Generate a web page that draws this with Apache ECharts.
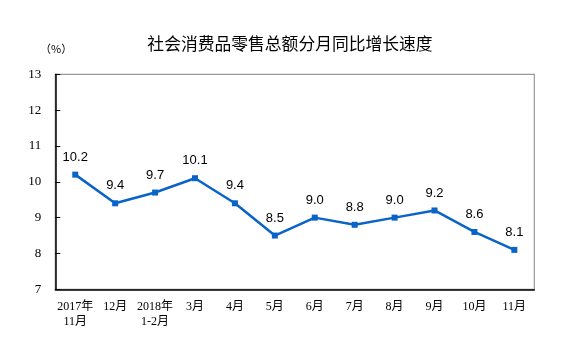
<!DOCTYPE html>
<html><head><meta charset="utf-8">
<script src="https://cdn.jsdelivr.net/npm/echarts@6/dist/echarts.min.js"></script>
<style>html,body{margin:0;padding:0;background:#fff}#c{width:585px;height:344px}</style>
</head><body><div id="c"></div>
<script>
var categories = ['2017年\n11月','12月','2018年\n1-2月','3月','4月','5月','6月','7月','8月','9月','10月','11月'];
var values = [10.2, 9.4, 9.7, 10.1, 9.4, 8.5, 9.0, 8.8, 9.0, 9.2, 8.6, 8.1];
var yTicks = [7, 8, 9, 10, 11, 12, 13];
var titleText = '社会消费品零售总额分月同比增长速度';
var unitText = '（%）';

var chart = echarts.init(document.getElementById('c'));
var blue = '#0a64c8';
var gl = 55.3, gt = 74.3, gw = 479, gh = 215;
chart.setOption({
  animation: false,
  title: {
    text: titleText, left: 285, top: 30, textAlign: 'center',
    textStyle: {fontFamily: 'Noto Sans CJK SC', fontSize: 16.8, fontWeight: 'normal', color: '#000'}
  },
  graphic: [
    {type: 'text', left: 40, top: 43, style: {text: unitText, font: '11px "Noto Sans CJK SC"', fill: '#000'}},
    {type: 'rect', shape: {x: gl, y: gt, width: gw, height: gh}, style: {fill: 'none', stroke: '#999', lineWidth: 1.2}, z: 0}
  ],
  grid: {left: gl, top: gt, width: gw, height: gh},
  xAxis: {
    type: 'category', data: categories, boundaryGap: true,
    axisLine: {lineStyle: {color: '#000', width: 1.5}},
    axisTick: {inside: true, length: 5, lineStyle: {color: '#000'}},
    axisLabel: {color: '#000', fontFamily: 'Liberation Serif, Noto Sans CJK SC', fontSize: 12, margin: 10, lineHeight: 15, interval: 0}
  },
  yAxis: {
    type: 'value', min: yTicks[0], max: yTicks[yTicks.length-1], interval: 1,
    axisLine: {show: true, lineStyle: {color: '#000', width: 1.5}},
    axisTick: {show: true, inside: true, length: 5, lineStyle: {color: '#000'}},
    splitLine: {show: false},
    axisLabel: {color: '#000', fontFamily: 'Liberation Serif', fontSize: 13, margin: 14}
  },
  series: [{
    type: 'line', data: values,
    symbol: 'rect', symbolSize: 6,
    lineStyle: {color: blue, width: 2.5},
    itemStyle: {color: blue},
    label: {show: true, position: 'top', distance: 8, color: '#000', fontFamily: 'Liberation Sans', fontSize: 13,
      formatter: function(p){ return p.value.toFixed(1); }}
  }]
});
</script></body></html>
